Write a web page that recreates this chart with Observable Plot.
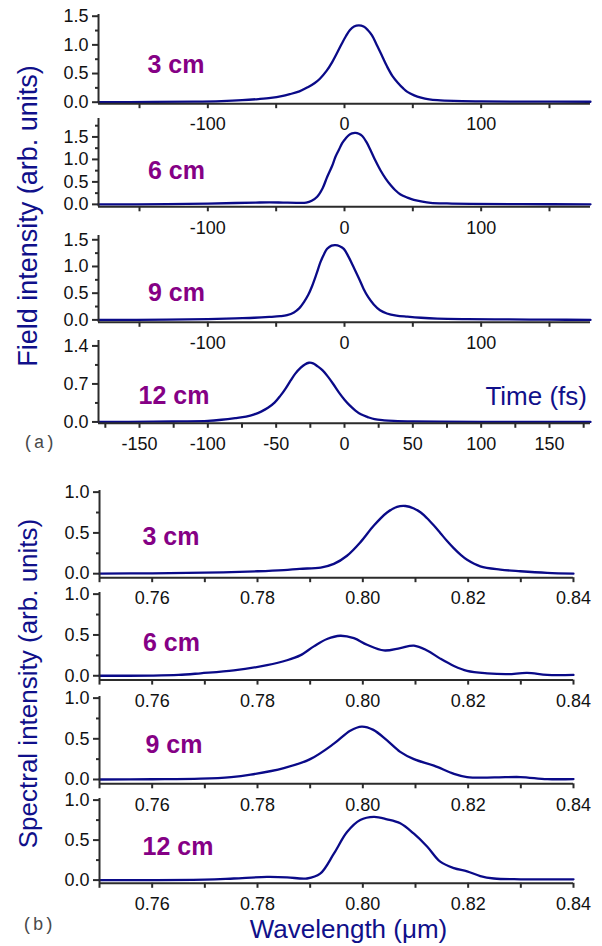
<!DOCTYPE html>
<html><head><meta charset="utf-8">
<script src="https://cdn.jsdelivr.net/npm/d3@7"></script>
<script src="https://cdn.jsdelivr.net/npm/@observablehq/plot@0.6"></script>
<style>
body{margin:0;background:#fff;}
#fig{position:relative;width:602px;height:946px;overflow:hidden;background:#fff;}
#fig svg.panel{position:absolute;left:0;}
#overlay{position:absolute;left:0;top:0;pointer-events:none;}
</style></head><body><div id="fig"></div>
<script>
// ---------- data ----------
const distances = ["3 cm", "6 cm", "9 cm", "12 cm"];

// (a) field intensity vs time (fs)
const time3 = [-180,-140,-110,-90,-75,-63,-54,-46,-40,-33,-27,-22,-18,-13,-9,-5,-2,1,4,7,10.5,14,17,20,24,28,31,35,39,43,46,51,56,62,68,80,100,130,180];
const field3 = [0,0.004,0.01,0.02,0.035,0.055,0.075,0.105,0.14,0.19,0.26,0.33,0.41,0.55,0.70,0.88,1.02,1.15,1.26,1.32,1.34,1.32,1.26,1.17,0.98,0.78,0.63,0.46,0.34,0.24,0.18,0.12,0.08,0.05,0.035,0.022,0.015,0.01,0.008];
const time6 = [-180,-130,-100,-80,-65,-55,-45,-35,-28,-24,-20,-16,-12.7,-9,-6.6,-4,-1.7,1,3.2,5.5,8,10.5,13,16,19,22.5,26.3,30,33.7,37,41,46,50.7,57,63,75,92,130,180];
const field6 = [0,0.005,0.015,0.03,0.04,0.045,0.04,0.035,0.04,0.08,0.17,0.36,0.61,0.86,1.06,1.22,1.36,1.47,1.54,1.58,1.59,1.57,1.52,1.39,1.21,0.98,0.76,0.58,0.43,0.32,0.22,0.15,0.10,0.06,0.035,0.02,0.01,0.005,0];
const time9 = [-180,-130,-100,-80,-66,-55,-47,-42,-37,-33,-29.8,-26.5,-23.6,-20.5,-17.6,-15,-12.7,-9.5,-6.6,-3.5,-0.5,3,6.8,10.5,14,17.5,21.4,26,31,38,46,56,68,90,120,150,180];
const field9 = [0,0.005,0.015,0.03,0.04,0.055,0.07,0.09,0.14,0.22,0.33,0.47,0.64,0.86,1.08,1.23,1.33,1.39,1.40,1.38,1.33,1.18,0.98,0.78,0.58,0.42,0.29,0.18,0.12,0.08,0.06,0.04,0.025,0.015,0.008,0.004,0];
const time12 = [-180,-140,-120,-100,-90,-80,-72,-66,-61,-56,-51,-47,-43,-39.5,-36,-32,-29,-26,-23,-20,-16,-12,-8,-4,0,4,8,12,17,22,29,36,50,70,100,140,180];
const field12 = [0,0.005,0.01,0.02,0.04,0.07,0.10,0.14,0.19,0.26,0.36,0.48,0.62,0.76,0.89,1.0,1.06,1.09,1.08,1.03,0.95,0.83,0.69,0.54,0.41,0.30,0.21,0.14,0.09,0.05,0.03,0.02,0.01,0.005,0.003,0.002,0];

// (b) spectral intensity vs wavelength (µm)
const wl3 = [0.75,0.76,0.77,0.78,0.785,0.788,0.792,0.7945,0.797,0.7996,0.8021,0.8046,0.8065,0.8081,0.8097,0.811,0.8122,0.8135,0.8147,0.816,0.8173,0.8186,0.8198,0.8223,0.8261,0.8299,0.835,0.84];
const spec3 = [0,0.005,0.012,0.03,0.045,0.06,0.075,0.12,0.22,0.39,0.59,0.75,0.82,0.83,0.80,0.75,0.68,0.59,0.50,0.40,0.31,0.23,0.17,0.09,0.05,0.03,0.01,0.0];
const wl6 = [0.75,0.76,0.765,0.7692,0.7755,0.7818,0.7856,0.7881,0.7907,0.7932,0.7957,0.7983,0.8008,0.804,0.8071,0.8097,0.8122,0.8147,0.8173,0.8198,0.8236,0.8274,0.8312,0.835,0.84];
const spec6 = [0,0.002,0.01,0.03,0.065,0.13,0.19,0.25,0.36,0.45,0.49,0.46,0.38,0.31,0.34,0.37,0.31,0.21,0.12,0.06,0.03,0.02,0.035,0.01,0.01];
const wl9 = [0.75,0.76,0.7692,0.775,0.7787,0.785,0.79,0.7945,0.7976,0.7998,0.802,0.8046,0.8071,0.8097,0.8135,0.8173,0.8198,0.825,0.8299,0.835,0.84];
const spec9 = [0,0.003,0.01,0.03,0.06,0.14,0.25,0.44,0.60,0.65,0.61,0.48,0.34,0.25,0.17,0.07,0.03,0.025,0.03,0.005,0.005];
const wl12 = [0.75,0.77,0.7755,0.7818,0.7856,0.7894,0.7919,0.7945,0.797,0.7995,0.8021,0.8046,0.8071,0.8097,0.8122,0.8147,0.8173,0.8198,0.8223,0.8249,0.83,0.84];
const spec12 = [0,0.005,0.02,0.04,0.035,0.02,0.08,0.33,0.60,0.75,0.79,0.76,0.71,0.58,0.42,0.23,0.15,0.11,0.05,0.02,0.01,0.01];

// ticks
const timeTicks = [-150,-100,-50,0,50,100,150];
const timeLabels = [-100,0,100];
const timeTicksLast = [-175,-150,-125,-100,-75,-50,-25,0,25,50,75,100,125,150,175];
const timeLabelsLast = [-150,-100,-50,0,50,100,150];
const wlTicks = [0.75,0.76,0.77,0.78,0.79,0.80,0.81,0.82,0.83,0.84];
const wlLabels = [0.76,0.78,0.80,0.82,0.84];
const yMajorA = [0,0.5,1.0,1.5];
const yMinorA = [0.25,0.75,1.25,1.75];
const yMajorA4 = [0,0.7,1.4];
const yMinorA4 = [0.35,1.05];
const yMajorB = [0,0.5,1.0];
const yMinorB = [0.25,0.75];
const timeDomain = [-180,180];
const wlDomain = [0.75,0.84];

// ---------- layout ----------
const FONT = "'Liberation Sans', Arial, Helvetica, sans-serif";
const AXIS = "#2b2b2b";
const LINE = "#0a0a88";
const LABEL = "#850085";
const TITLE = "#10108a";

const panels = [
  {xs: time3, ys: field3, label: distances[0], xDomain: timeDomain, yDomain: [-0.026,1.53], top: 14.3, bottom: 103.5, ml: 98, mr: 12, xTicks: timeTicks, xLabels: timeLabels, xFmt: d => String(d), yMajor: yMajorA, yMinor: yMinorA.filter(d => d < 1.53), yFmt: d => d.toFixed(1), ldx: 49, ldy: 50.7},
  {xs: time6, ys: field6, label: distances[1], xDomain: timeDomain, yDomain: [-0.054,1.91], top: 118.4, bottom: 206.7, ml: 98, mr: 12, xTicks: timeTicks, xLabels: timeLabels, xFmt: d => String(d), yMajor: yMajorA, yMinor: yMinorA, yFmt: d => d.toFixed(1), ldx: 49.5, ldy: 52.2},
  {xs: time9, ys: field9, label: distances[2], xDomain: timeDomain, yDomain: [-0.045,1.58], top: 234.9, bottom: 321.7, ml: 98, mr: 12, xTicks: timeTicks, xLabels: timeLabels, xFmt: d => String(d), yMajor: yMajorA, yMinor: yMinorA.filter(d => d < 1.58), yFmt: d => d.toFixed(1), ldx: 49.5, ldy: 57.6},
  {xs: time12, ys: field12, label: distances[3], xDomain: timeDomain, yDomain: [-0.025,1.5], top: 339.6, bottom: 422.4, ml: 98, mr: 12, xTicks: timeTicksLast, xLabels: timeLabelsLast, xFmt: d => String(d), yMajor: yMajorA4, yMinor: yMinorA4, yFmt: d => d.toFixed(1), ldx: 40, ldy: 56},
  {xs: wl3, ys: spec3, label: distances[0], xDomain: wlDomain, yDomain: [-0.049,1.02], top: 490.1, bottom: 577.3, ml: 99, mr: 29, xTicks: wlTicks, xLabels: wlLabels, xFmt: d => d.toFixed(2), yMajor: yMajorB, yMinor: yMinorB, yFmt: d => d.toFixed(1), ldx: 43, ldy: 46.6},
  {xs: wl6, ys: spec6, label: distances[1], xDomain: wlDomain, yDomain: [-0.053,1.02], top: 592.4, bottom: 680.0, ml: 99, mr: 29, xTicks: wlTicks, xLabels: wlLabels, xFmt: d => d.toFixed(2), yMajor: yMajorB, yMinor: yMinorB, yFmt: d => d.toFixed(1), ldx: 43.5, ldy: 50.6},
  {xs: wl9, ys: spec9, label: distances[2], xDomain: wlDomain, yDomain: [-0.053,1.02], top: 696.0, bottom: 783.3, ml: 99, mr: 29, xTicks: wlTicks, xLabels: wlLabels, xFmt: d => d.toFixed(2), yMajor: yMajorB, yMinor: yMinorB, yFmt: d => d.toFixed(1), ldx: 46, ldy: 49},
  {xs: wl12, ys: spec12, label: distances[3], xDomain: wlDomain, yDomain: [-0.04,1.02], top: 798.4, bottom: 883.2, ml: 99, mr: 29, xTicks: wlTicks, xLabels: wlLabels, xFmt: d => d.toFixed(2), yMajor: yMajorB, yMinor: yMinorB, yFmt: d => d.toFixed(1), ldx: 43, ldy: 48.3}
];

const fig = document.getElementById("fig");
const MT = 4, MB = 34;

for (const p of panels) {
  const data = p.xs.map((x, i) => ({x, y: p.ys[i]}));
  const h = p.bottom - p.top + MT + MB;
  const chart = Plot.plot({
    width: 602,
    height: h,
    marginTop: MT,
    marginBottom: MB,
    marginLeft: p.ml,
    marginRight: p.mr,
    x: {domain: p.xDomain},
    y: {domain: p.yDomain},
    style: {background: "transparent", overflow: "visible", fontFamily: FONT, fontSize: "18px", color: "#111"},
    marks: [
      Plot.axisY({ticks: p.yMinor, tickSize: 3, tickFormat: () => "", stroke: AXIS, strokeWidth: 2, label: null}),
      Plot.axisY({ticks: p.yMajor, tickSize: 6, tickPadding: 4, tickFormat: p.yFmt, stroke: AXIS, strokeWidth: 2, fill: "#111", label: null}),
      Plot.axisX({ticks: p.xTicks, tickSize: 5, tickPadding: 9, tickFormat: d => p.xLabels.includes(d) ? p.xFmt(d) : "", stroke: AXIS, strokeWidth: 2, fill: "#111", label: null}),
      Plot.line(data, {x: "x", y: "y", stroke: LINE, strokeWidth: 2.3, curve: "catmull-rom"}),
      Plot.ruleX([p.xDomain[0]], {stroke: AXIS, strokeWidth: 2}),
      Plot.ruleY([p.yDomain[0]], {stroke: AXIS, strokeWidth: 2}),
      Plot.text([p.label], {frameAnchor: "top-left", textAnchor: "start", lineAnchor: "middle", dx: p.ldx, dy: p.ldy, fill: LABEL, fontWeight: "bold", fontSize: 25, fontFamily: FONT})
    ]
  });
  chart.classList.add("panel");
  chart.style.position = "absolute";
  chart.style.left = "0px";
  chart.style.top = (p.top - MT) + "px";
  fig.appendChild(chart);
}

// titles overlay
const ov = d3.select(fig).append("svg").attr("id", "overlay").attr("width", 602).attr("height", 946)
  .style("font-family", FONT);
ov.append("text").attr("transform", "translate(36.7,216) rotate(-90)").attr("text-anchor", "middle")
  .attr("fill", TITLE).attr("font-size", 27).text("Field intensity (arb. units)");
ov.append("text").attr("transform", "translate(37,683.5) rotate(-90)").attr("text-anchor", "middle")
  .attr("fill", TITLE).attr("font-size", 26).text("Spectral intensity (arb. units)");
ov.append("text").attr("x", 587).attr("y", 405).attr("text-anchor", "end")
  .attr("fill", TITLE).attr("font-size", 26).text("Time (fs)");
ov.append("text").attr("x", 348.5).attr("y", 938).attr("text-anchor", "middle")
  .attr("fill", TITLE).attr("font-size", 26).text("Wavelength (\u03bcm)");
ov.append("text").attr("x", 23).attr("y", 448).attr("fill", "#4a4a4a")
  .attr("font-family", "'Liberation Mono', 'Courier New', monospace").attr("font-size", 18).text("(a)");
ov.append("text").attr("x", 22).attr("y", 930).attr("fill", "#4a4a4a")
  .attr("font-family", "'Liberation Mono', 'Courier New', monospace").attr("font-size", 18).text("(b)");
</script></body></html>
